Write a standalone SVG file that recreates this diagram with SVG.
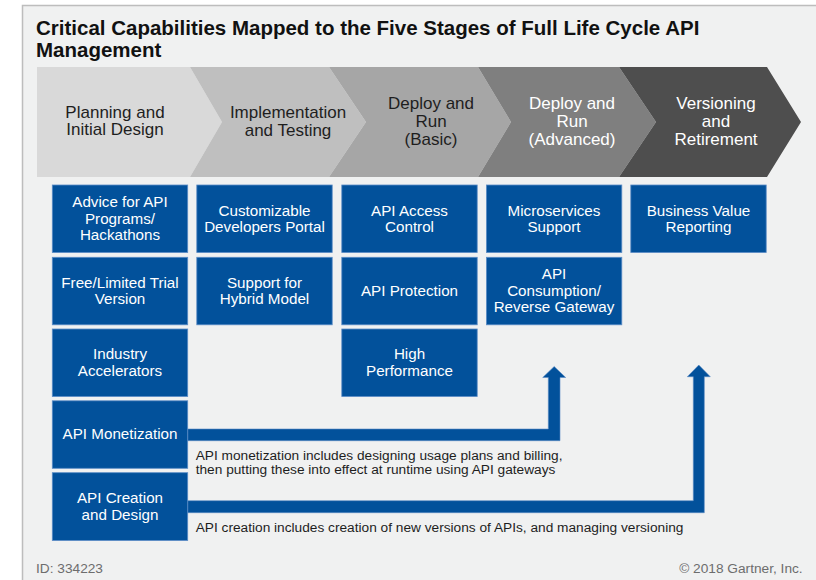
<svg xmlns="http://www.w3.org/2000/svg" width="816" height="580" viewBox="0 0 816 580">
  <style>
    .title{font-family:"Liberation Sans",Arial,sans-serif;font-weight:bold;font-size:20.5px;fill:#111}
    .stg{font-family:"Liberation Sans",Arial,sans-serif;font-size:17px;text-anchor:middle}
    .dark{fill:#1e1e1e}
    .light{fill:#ffffff}
    .box{fill:#02519b;stroke:#5a8cc6;stroke-width:0.8}
    .bt{font-family:"Liberation Sans",Arial,sans-serif;font-size:15.2px;fill:#ffffff;text-anchor:middle}
    .desc{font-family:"Liberation Sans",Arial,sans-serif;font-size:13.7px;fill:#1e1e1e}
    .foot{font-family:"Liberation Sans",Arial,sans-serif;font-size:13.7px;fill:#6d6d6d}
    .arrow{fill:#02519b;stroke:#5a8cc6;stroke-width:0.6}
  </style>
  <rect x="0" y="0" width="816" height="580" fill="#ffffff"/>
  <rect x="22.5" y="5.5" width="810" height="590" fill="#f0f1f1" stroke="#bdbdbd" stroke-width="1.5"/>

  <g id="title">
    <text class="title" x="36" y="35">Critical Capabilities Mapped to the Five Stages of Full Life Cycle API</text>
    <text class="title" x="36" y="57">Management</text>
  </g>

  <g id="stage1">
    <polygon points="37,67 190,67 222,122 190,177 37,177" fill="#d9d9d9"/>
    <text class="stg dark" x="115" y="117.5">Planning and</text>
    <text class="stg dark" x="115" y="135">Initial Design</text>
  </g>
  <g id="stage2">
    <polygon points="190,67 329,67 366,122 329,177 190,177 222,122" fill="#bfbfbf"/>
    <text class="stg dark" x="288" y="118">Implementation</text>
    <text class="stg dark" x="288" y="136">and Testing</text>
  </g>
  <g id="stage3">
    <polygon points="329,67 478,67 511,122 478,177 329,177 366,122" fill="#a6a6a6"/>
    <text class="stg dark" x="431" y="109">Deploy and</text>
    <text class="stg dark" x="431" y="127">Run</text>
    <text class="stg dark" x="431" y="145">(Basic)</text>
  </g>
  <g id="stage4">
    <polygon points="478,67 619,67 656,122 619,177 478,177 511,122" fill="#7f7f7f"/>
    <text class="stg light" x="572" y="109">Deploy and</text>
    <text class="stg light" x="572" y="127">Run</text>
    <text class="stg light" x="572" y="145">(Advanced)</text>
  </g>
  <g id="stage5">
    <polygon points="619,67 767,67 801,122 767,177 619,177 656,122" fill="#4e4e4e"/>
    <text class="stg light" x="716" y="109">Versioning</text>
    <text class="stg light" x="716" y="127">and</text>
    <text class="stg light" x="716" y="145">Retirement</text>
  </g>

  <g id="connectors">
    <path class="arrow" d="M187.7,429 H548.3 V377.5 H542.7 L554.2,366.5 L565.7,377.5 H560 V440.7 H187.7 Z"/>
    <path class="arrow" d="M187.7,500.7 H693.3 V376.7 H687.3 L698.8,365 L710.3,376.7 H704.3 V512.7 H187.7 Z"/>
  </g>

  <g id="advice">
    <rect class="box" x="52.3" y="185" width="135.4" height="67.5"/>
    <text class="bt" x="120" y="207">Advice for API</text>
    <text class="bt" x="120" y="223.5">Programs/</text>
    <text class="bt" x="120" y="240">Hackathons</text>
  </g>
  <g id="free-trial">
    <rect class="box" x="52.3" y="257.3" width="135.4" height="67.5"/>
    <text class="bt" x="120" y="287.5">Free/Limited Trial</text>
    <text class="bt" x="120" y="304">Version</text>
  </g>
  <g id="industry">
    <rect class="box" x="52.3" y="329" width="135.4" height="67.5"/>
    <text class="bt" x="120" y="359">Industry</text>
    <text class="bt" x="120" y="375.5">Accelerators</text>
  </g>
  <g id="monetization">
    <rect class="box" x="52.3" y="400.8" width="135.4" height="67.5"/>
    <text class="bt" x="120" y="439.4">API Monetization</text>
  </g>
  <g id="creation">
    <rect class="box" x="52.3" y="472.7" width="135.4" height="67.8"/>
    <text class="bt" x="120" y="503.3">API Creation</text>
    <text class="bt" x="120" y="519.8">and Design</text>
  </g>

  <g id="portal">
    <rect class="box" x="196.8" y="185" width="135.4" height="67.5"/>
    <text class="bt" x="264.5" y="215.5">Customizable</text>
    <text class="bt" x="264.5" y="232">Developers Portal</text>
  </g>
  <g id="hybrid">
    <rect class="box" x="196.8" y="257.3" width="135.4" height="67.5"/>
    <text class="bt" x="264.5" y="287.5">Support for</text>
    <text class="bt" x="264.5" y="304">Hybrid Model</text>
  </g>

  <g id="access">
    <rect class="box" x="341.8" y="185" width="135.4" height="67.5"/>
    <text class="bt" x="409.5" y="215.5">API Access</text>
    <text class="bt" x="409.5" y="232">Control</text>
  </g>
  <g id="protection">
    <rect class="box" x="341.8" y="257.3" width="135.4" height="67.5"/>
    <text class="bt" x="409.5" y="295.7">API Protection</text>
  </g>
  <g id="performance">
    <rect class="box" x="341.8" y="329" width="135.4" height="67.5"/>
    <text class="bt" x="409.5" y="359">High</text>
    <text class="bt" x="409.5" y="375.5">Performance</text>
  </g>

  <g id="microservices">
    <rect class="box" x="486.4" y="185" width="135.4" height="67.5"/>
    <text class="bt" x="554" y="215.5">Microservices</text>
    <text class="bt" x="554" y="232">Support</text>
  </g>
  <g id="consumption">
    <rect class="box" x="486.4" y="257.3" width="135.4" height="67.5"/>
    <text class="bt" x="554" y="279">API</text>
    <text class="bt" x="554" y="295.5">Consumption/</text>
    <text class="bt" x="554" y="312">Reverse Gateway</text>
  </g>

  <g id="business-value">
    <rect class="box" x="630.8" y="185" width="135.4" height="67.5"/>
    <text class="bt" x="698.5" y="215.5">Business Value</text>
    <text class="bt" x="698.5" y="232">Reporting</text>
  </g>

  <g id="descriptions">
    <text class="desc" x="195.7" y="459.5">API monetization includes designing usage plans and billing,</text>
    <text class="desc" x="195.7" y="473.5">then putting these into effect at runtime using API gateways</text>
    <text class="desc" x="195.7" y="532">API creation includes creation of new versions of APIs, and managing versioning</text>
  </g>

  <g id="footer">
    <text class="foot" x="36" y="573.3">ID: 334223</text>
    <text class="foot" x="802.7" y="573.3" text-anchor="end">© 2018 Gartner, Inc.</text>
  </g>
</svg>
